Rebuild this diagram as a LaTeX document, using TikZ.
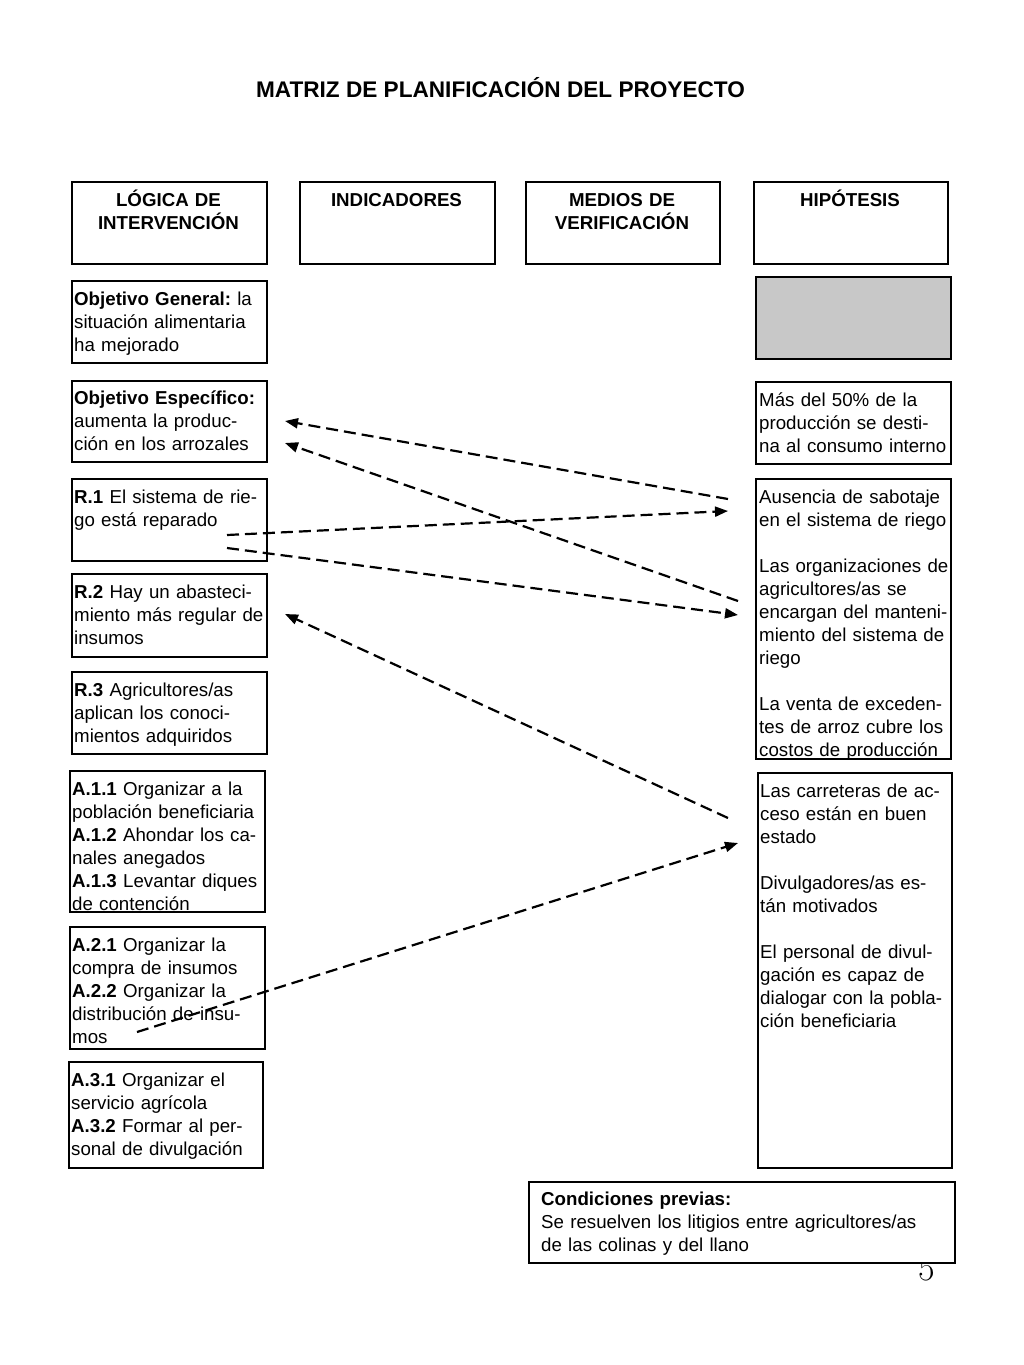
\documentclass[tikz,border=0pt]{standalone}
\usepackage{fontspec}
\setsansfont{Liberation Sans}
\usetikzlibrary{arrows.meta}
\definecolor{cellgrey}{RGB}{200,200,200}
\frenchspacing
\begin{document}
\begin{tikzpicture}[x=1pt,y=-1pt,
  every node/.style={font=\sffamily\fontsize{18.7}{23}\selectfont},
  cell/.style={draw=black, line width=1.6pt, anchor=north west, inner sep=0pt, rectangle},
  txt/.style={anchor=base west, inner sep=0pt, text width=215pt, align=left},
  head/.style={anchor=base, inner sep=0pt, text width=190pt, align=center, font=\sffamily\bfseries\fontsize{18.7}{23}\selectfont},
  dasharrow/.style={line width=2.2pt, dash pattern=on 12pt off 6pt, -{Triangle[length=13pt,width=10pt]}}
]
\useasboundingbox (0,0) rectangle (1024,1365);
\fill[white] (0,0) rectangle (1024,1365);

% title
\node[font=\sffamily\bfseries\fontsize{22.6}{27}\selectfont, anchor=base, inner sep=0pt] (title) at (500.5,97) {MATRIZ DE PLANIFICACIÓN DEL PROYECTO};

% header boxes
\node[cell, minimum width=195pt, minimum height=82pt] (hb1) at (71,181) {};
\node[cell, minimum width=195pt, minimum height=82pt] (hb2) at (299,181) {};
\node[cell, minimum width=194pt, minimum height=82pt] (hb3) at (525,181) {};
\node[cell, minimum width=194pt, minimum height=82pt] (hb4) at (753,181) {};
\node[head] (ht1) at (168.5,206.5) {LÓGICA DE\\INTERVENCIÓN};
\node[head] (ht2) at (396.5,206.5) {INDICADORES};
\node[head] (ht3) at (622,206.5) {MEDIOS DE\\VERIFICACIÓN};
\node[head] (ht4) at (850,206.5) {HIPÓTESIS};

% left column
\node[cell, minimum width=195pt, minimum height=82pt] (og) at (71,280) {};
\node[txt] (ogt) at (74,305.5) {\textbf{Objetivo General:} la\\situación alimentaria\\ha mejorado};
\node[cell, minimum width=195pt, minimum height=81pt] (oe) at (71,380) {};
\node[txt] (oet) at (74,404.5) {\textbf{Objetivo Específico:}\\aumenta la produc-\\ción en los arrozales};
\node[cell, minimum width=195pt, minimum height=82pt] (r1) at (71,478) {};
\node[txt] (r1t) at (74,503.5) {\textbf{R.1} El sistema de rie-\\go está reparado};
\node[cell, minimum width=195pt, minimum height=83pt] (r2) at (71,573) {};
\node[txt] (r2t) at (74,598.5) {\textbf{R.2} Hay un abasteci-\\miento más regular de\\insumos};
\node[cell, minimum width=195pt, minimum height=82pt] (r3) at (71,671) {};
\node[txt] (r3t) at (74,696.5) {\textbf{R.3} Agricultores/as\\aplican los conoci-\\mientos adquiridos};
\node[cell, minimum width=195pt, minimum height=141pt] (a1) at (69,770) {};
\node[txt] (a1t) at (72,795.5) {\textbf{A.1.1} Organizar a la\\población beneficiaria\\\textbf{A.1.2} Ahondar los ca-\\nales anegados\\\textbf{A.1.3} Levantar diques\\de contención};
\node[cell, minimum width=195pt, minimum height=122pt] (a2) at (69,926) {};
\node[txt] (a2t) at (72,951.5) {\textbf{A.2.1} Organizar la\\compra de insumos\\\textbf{A.2.2} Organizar la\\distribución de insu-\\mos};
\node[cell, minimum width=194pt, minimum height=106pt] (a3) at (68,1061) {};
\node[txt] (a3t) at (71,1086.5) {\textbf{A.3.1} Organizar el\\servicio agrícola\\\textbf{A.3.2} Formar al per-\\sonal de divulgación};

% right column
\node[cell, fill=cellgrey, minimum width=195pt, minimum height=82pt] (grey) at (755,276) {};
\node[cell, minimum width=195pt, minimum height=82pt] (h1) at (755,381) {};
\node[txt] (h1t) at (759,406.5) {Más del 50\% de la\\producción se desti-\\na al consumo interno};
\node[cell, minimum width=195pt, minimum height=280pt] (h2) at (755,478) {};
\node[txt] (h2t) at (759,503.5) {Ausencia de sabotaje\\en el sistema de riego\\[23pt]Las organizaciones de\\agricultores/as se\\encargan del manteni-\\miento del sistema de\\riego\\[23pt]La venta de exceden-\\tes de arroz cubre los\\costos de producción};
\node[cell, minimum width=194pt, minimum height=395pt] (h3) at (757,772) {};
\node[txt] (h3t) at (760,797.5) {Las carreteras de ac-\\ceso están en buen\\estado\\[23pt]Divulgadores/as es-\\tán motivados\\[23pt]El personal de divul-\\gación es capaz de\\dialogar con la pobla-\\ción beneficiaria};

% page number partly hidden
\node[font=\rmfamily\fontsize{36}{40}\selectfont, anchor=base, inner sep=0pt] (pgnum) at (927,1280) {5};
\node[cell, fill=white, minimum width=426pt, minimum height=81pt] (cond) at (528,1181) {};
\node[txt, text width=420pt] (condt) at (541,1205.5) {\textbf{Condiciones previas:}\\Se resuelven los litigios entre agricultores/as\\de las colinas y del llano};

% arrows
\coordinate (s1) at (728,499);  \coordinate (e1) at (285,421);
\coordinate (s2) at (227,535);  \coordinate (e2) at (728,511);
\coordinate (s3) at (738,601);  \coordinate (e3) at (285,443);
\coordinate (s4) at (227,548);  \coordinate (e4) at (738,615);
\coordinate (s5) at (728,818);  \coordinate (e5) at (285,614);
\coordinate (s6) at (137,1032); \coordinate (e6) at (738,843);
\draw[dasharrow] (s1) -- (e1);
\draw[dasharrow] (s2) -- (e2);
\draw[dasharrow] (s3) -- (e3);
\draw[dasharrow] (s4) -- (e4);
\draw[dasharrow] (s5) -- (e5);
\draw[dasharrow] (s6) -- (e6);
\end{tikzpicture}
\end{document}
